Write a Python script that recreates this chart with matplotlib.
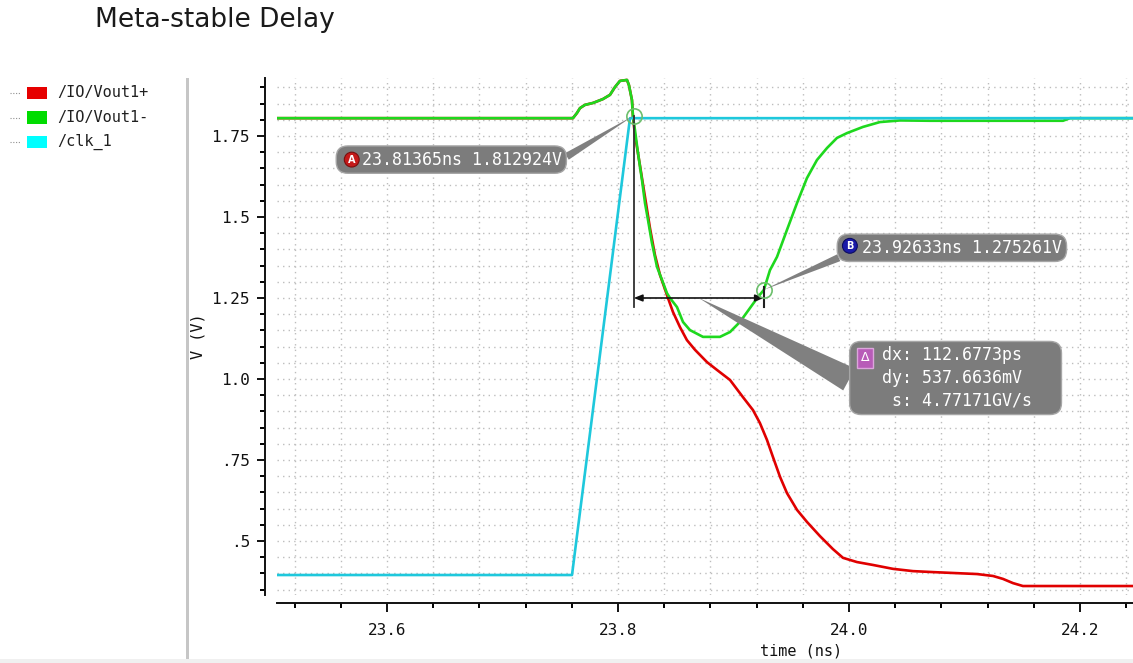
import matplotlib
matplotlib.use("Agg")
import matplotlib.pyplot as plt
from matplotlib.patches import Rectangle, BoxStyle
from matplotlib.lines import Line2D
from matplotlib.ticker import MultipleLocator, FixedLocator, FixedFormatter

# ---- waveform data (time in ns, voltage in V) ----
vout_p_t = [23.5048, 23.7610, 23.7645, 23.7671, 23.7714, 23.7784, 23.7870, 23.7931, 23.7974,
            23.8017, 23.8078, 23.8095, 23.8121, 23.8130, 23.8147, 23.8190, 23.8234, 23.8277,
            23.8320, 23.8364, 23.8433, 23.8476, 23.8537, 23.8597, 23.8667, 23.8771, 23.8857,
            23.8970, 23.9082, 23.9169, 23.9229, 23.9290, 23.9342, 23.9403, 23.9463, 23.9550,
            23.9636, 23.9749, 23.9861, 23.9948, 24.0069, 24.0208, 24.0381, 24.0554, 24.0727,
            24.1108, 24.1247, 24.1333, 24.1420, 24.1506, 24.2459]
vout_p_v = [1.805, 1.805, 1.821, 1.836, 1.846, 1.852, 1.864, 1.877, 1.901,
            1.920, 1.923, 1.907, 1.861, 1.809, 1.753, 1.660, 1.562, 1.466,
            1.383, 1.321, 1.250, 1.207, 1.160, 1.120, 1.090, 1.052, 1.028,
            0.997, 0.944, 0.904, 0.864, 0.812, 0.759, 0.698, 0.648, 0.596,
            0.559, 0.515, 0.475, 0.448, 0.435, 0.426, 0.414, 0.407, 0.404,
            0.398, 0.392, 0.383, 0.370, 0.361, 0.361]

vout_n_t = [23.5048, 23.7610, 23.7645, 23.7671, 23.7714, 23.7784, 23.7870, 23.7931, 23.7974,
            23.8017, 23.8078, 23.8095, 23.8121, 23.8130, 23.8147, 23.8173, 23.8208, 23.8234,
            23.8260, 23.8294, 23.8338, 23.8381, 23.8424, 23.8450, 23.8511, 23.8563, 23.8623,
            23.8736, 23.8883, 23.8970, 23.9056, 23.9143, 23.9212, 23.9263, 23.9316, 23.9377,
            23.9463, 23.9550, 23.9636, 23.9723, 23.9810, 23.9896, 23.9983, 24.0121, 24.0268,
            24.0442, 24.0701, 24.1853, 24.1913, 24.2459]
vout_n_v = [1.805, 1.805, 1.821, 1.836, 1.846, 1.852, 1.864, 1.877, 1.901,
            1.920, 1.923, 1.907, 1.861, 1.809, 1.769, 1.698, 1.614, 1.543,
            1.491, 1.420, 1.346, 1.306, 1.265, 1.250, 1.222, 1.176, 1.151,
            1.130, 1.130, 1.145, 1.176, 1.219, 1.253, 1.275, 1.336, 1.377,
            1.460, 1.543, 1.620, 1.676, 1.713, 1.744, 1.759, 1.778, 1.793,
            1.798, 1.797, 1.797, 1.805, 1.805]

clk_t = [23.5048, 23.7602, 23.8104, 24.2459]
clk_v = [0.395, 0.395, 1.805, 1.805]

series_names = ["/IO/Vout1+", "/IO/Vout1-", "/clk_1"]

# ---- marker readouts ----
marker_a = (23.81365, 1.812924)
marker_b = (23.92633, 1.275261)
delta_dx = "112.6773ps"
delta_dy = "537.6636mV"
delta_s = "4.77171GV/s"
delta_level = 1.25
delta_floor = 1.222

# ---- axis ticks ----
x_major = [23.6, 23.8, 24.0, 24.2]
x_labels = ["23.6", "23.8", "24.0", "24.2"]
y_major = [0.5, 0.75, 1.0, 1.25, 1.5, 1.75]
y_labels = [".5", ".75", "1.0", "1.25", "1.5", "1.75"]

W, H = 1133, 663
fig = plt.figure(figsize=(W / 100, H / 100), dpi=100)
fig.patch.set_facecolor("white")
mono = "DejaVu Sans Mono"


def fx(px):
    return px / W


def fy(py):
    return 1 - py / H


class CalloutBox:
    """Rounded box with extra room on the left (for the badge) and right."""

    def __init__(self, left=0.0, right=0.0, pad=0.25, rounding=0.7):
        self.left = left
        self.right = right
        self.base = BoxStyle.Round(pad=pad, rounding_size=rounding)

    def __call__(self, x0, y0, width, height, mutation_size):
        l = self.left * mutation_size
        r = self.right * mutation_size
        return self.base(x0 - l, y0, width + l + r, height, mutation_size)


# title
fig.text(fx(95), fy(20), "Meta-stable Delay", fontsize=19, family="DejaVu Sans",
         color="#1a1a1a", ha="left", va="center")

# panel separator and bottom strip
fig.add_artist(Rectangle((fx(186), 0), fx(3), fy(78), transform=fig.transFigure,
                         fc="#c6c6c6", ec="none"))
fig.add_artist(Rectangle((0, 0), 1, 4 / H, transform=fig.transFigure,
                         fc="#f0f0f0", ec="none"))

# legend panel
swatch_colors = ["#e60000", "#00dc00", "#00ffff"]
for i, (name, c) in enumerate(zip(series_names, swatch_colors)):
    yc = 93 + i * 24.5
    fig.add_artist(Line2D([fx(10), fx(21)], [fy(yc), fy(yc)], transform=fig.transFigure,
                          color="#909090", lw=0.8, ls=(0, (1, 1.5))))
    fig.add_artist(Rectangle((fx(27), fy(yc + 6)), fx(20), 12 / H, transform=fig.transFigure,
                             fc=c, ec="none"))
    fig.text(fx(57), fy(yc), name, fontsize=11, family=mono, color="#202020",
             ha="left", va="center")

ax = fig.add_axes([fx(277), fy(595), fx(1133 - 277), (595 - 78) / H])
ax.set_xlim(23.5048, 24.2459)
ax.set_ylim(0.3333, 1.929)

line_colors = ["#e00000", "#1ed81e", "#1ec8dc"]
ax.plot(vout_p_t, vout_p_v, color=line_colors[0], lw=1.9, zorder=3)
ax.plot(vout_n_t, vout_n_v, color=line_colors[1], lw=1.9, zorder=4)
ax.plot(clk_t, clk_v, color=line_colors[2], lw=1.9, zorder=5)

# ticks and grid
ax.xaxis.set_major_locator(FixedLocator(x_major))
ax.xaxis.set_major_formatter(FixedFormatter(x_labels))
ax.xaxis.set_minor_locator(MultipleLocator(0.04))
ax.yaxis.set_major_locator(FixedLocator(y_major))
ax.yaxis.set_major_formatter(FixedFormatter(y_labels))
ax.yaxis.set_minor_locator(MultipleLocator(0.05))
ax.grid(which="both", color="#bdbdbd", lw=1.0, ls=(0, (1, 3)), zorder=0)

for s in ("top", "right"):
    ax.spines[s].set_visible(False)
ax.spines["left"].set_position(("outward", 8.6))
ax.spines["bottom"].set_position(("outward", 5.8))
for s in ("left", "bottom"):
    ax.spines[s].set_linewidth(1.4)
    ax.spines[s].set_color("#111111")

ax.tick_params(axis="y", which="major", length=5.8, width=1.4, pad=5, labelsize=11.5,
               colors="#111111")
ax.tick_params(axis="y", which="minor", length=3.6, width=1.4)
ax.tick_params(axis="x", which="major", length=6.5, width=1.4, pad=8, labelsize=11.5,
               colors="#111111")
ax.tick_params(axis="x", which="minor", length=3.6, width=1.4)
for lab in ax.get_xticklabels() + ax.get_yticklabels():
    lab.set_family(mono)

ax.set_ylabel("V (V)", fontsize=11, family=mono, color="#111111")
ax.yaxis.set_label_coords(-0.084, 0.5)
ax.set_xlabel("time (ns)", fontsize=11, family=mono, color="#111111")
ax.xaxis.set_label_coords(0.612, -0.093)

# ---- markers and delta measurement ----
ta, va = marker_a
tb, vb = marker_b
ax.plot([ta, ta], [va, delta_floor], color="#303030", lw=1.3, zorder=6)
ax.plot([tb, tb], [vb + 0.01, delta_floor], color="#202020", lw=1.5, zorder=6)
ax.annotate("", xy=(ta, delta_level), xytext=(tb, delta_level),
            arrowprops=dict(arrowstyle="<|-|>,head_length=0.5,head_width=0.2",
                            color="#111111", lw=1.2, shrinkA=0, shrinkB=0), zorder=7)
for t, v in (marker_a, marker_b):
    ax.plot(t, v, "o", ms=11, mfc="none", mec="#6cbf6c", mew=1.2, zorder=8)

box_kw = dict(fc="#7c7c7c", ec="#a6a6a6", lw=1)
wedge = dict(arrowstyle="wedge,tail_width=0.45", fc="#808080", ec="none",
             shrinkA=0, shrinkB=0)
fs = 12

ax.annotate(f"{ta:.5f}ns {va:.6f}V", xy=marker_a, xytext=(-72, -44),
            textcoords="offset pixels", ha="right", va="center", fontsize=fs,
            family=mono, color="white",
            bbox=dict(boxstyle=CalloutBox(left=1.25, pad=0.28), **box_kw),
            arrowprops=dict(wedge, relpos=(1.0, 0.5)), zorder=9)
ax.annotate("A", xy=marker_a, xytext=(-282, -44), textcoords="offset pixels",
            ha="center", va="center", fontsize=7, weight="bold", color="white",
            bbox=dict(boxstyle="circle,pad=0.25", fc="#c41a1a", ec="#7a0e0e", lw=0.8),
            zorder=10)

ax.annotate(f"{tb:.5f}ns {vb:.6f}V", xy=marker_b, xytext=(98, 42),
            textcoords="offset pixels", ha="left", va="center", fontsize=fs,
            family=mono, color="white",
            bbox=dict(boxstyle=CalloutBox(left=1.2, pad=0.28), **box_kw),
            arrowprops=dict(wedge, relpos=(0.0, 0.5)), zorder=9)
ax.annotate("B", xy=marker_b, xytext=(86, 44), textcoords="offset pixels",
            ha="center", va="center", fontsize=7, weight="bold", color="white",
            bbox=dict(boxstyle="circle,pad=0.25", fc="#1a1aa8", ec="#0c0c60", lw=0.8),
            zorder=10)

mid = ((ta + tb) / 2, delta_level)
delta_text = f"dx: {delta_dx}\ndy: {delta_dy}\n s: {delta_s}"
ax.annotate(delta_text, xy=mid, xytext=(183, -80), textcoords="offset pixels",
            ha="left", va="center", fontsize=fs, family=mono, color="white",
            linespacing=1.35,
            bbox=dict(boxstyle=CalloutBox(left=1.65, right=1.5, pad=0.28), **box_kw),
            arrowprops=dict(wedge, arrowstyle="wedge,tail_width=1.5", relpos=(0.0, 0.2)),
            zorder=9)
ax.annotate("\u0394", xy=mid, xytext=(166, -60), textcoords="offset pixels",
            ha="center", va="center", fontsize=9, color="white",
            bbox=dict(boxstyle="square,pad=0.3", fc="#b85cb8", ec="#dca6dc", lw=1),
            zorder=10)

fig.savefig("out.png", dpi=100)
